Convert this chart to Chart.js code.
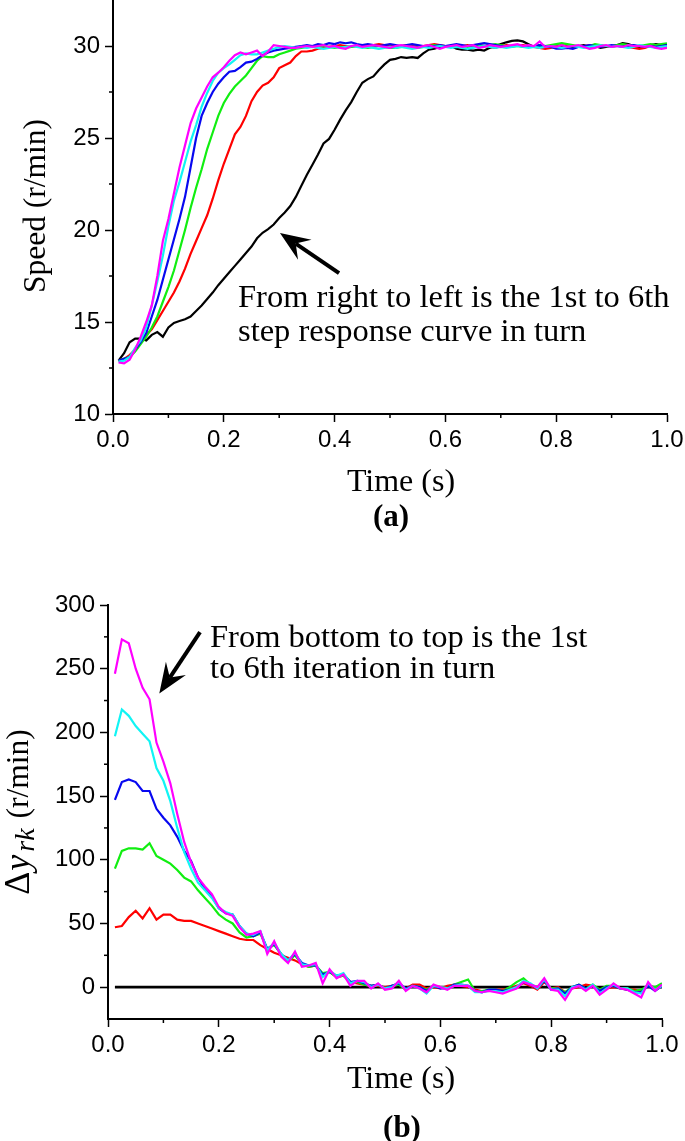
<!DOCTYPE html>
<html><head><meta charset="utf-8">
<script src="https://cdn.jsdelivr.net/npm/chart.js@4.4.0/dist/chart.umd.min.js"></script>
<style>
html,body{margin:0;padding:0;background:#fff;width:685px;height:1141px;overflow:hidden}
#ca{position:absolute;left:0;top:0}
#cb{position:absolute;left:0;top:545px}
</style></head><body>
<canvas id="ca" width="685" height="545"></canvas>
<canvas id="cb" width="685" height="596"></canvas>
<script>
// ---------- (a) step responses: time (s) and speed (r/min) ----------
const timeA = [0.01,0.02,0.03,0.04,0.05,0.06,0.07,0.08,0.09,0.10,
0.11,0.12,0.13,0.14,0.15,0.16,0.17,0.18,0.19,0.20,
0.21,0.22,0.23,0.24,0.25,0.26,0.27,0.28,0.29,0.30,
0.31,0.32,0.33,0.34,0.35,0.36,0.37,0.38,0.39,0.40,
0.41,0.42,0.43,0.44,0.45,0.46,0.47,0.48,0.49,0.50,
0.51,0.52,0.53,0.54,0.55,0.56,0.57,0.58,0.59,0.60,
0.61,0.62,0.63,0.64,0.65,0.66,0.67,0.68,0.69,0.70,
0.71,0.72,0.73,0.74,0.75,0.76,0.77,0.78,0.79,0.80,
0.81,0.82,0.83,0.84,0.85,0.86,0.87,0.88,0.89,0.90,
0.91,0.92,0.93,0.94,0.95,0.96,0.97,0.98,0.99,1.00];
const speed1 = [12.9,13.3,13.9,14.1,14.1,14.0,14.3,14.45,14.2,14.7,
14.95,15.05,15.15,15.3,15.6,15.9,16.25,16.6,17.0,17.35,
17.7,18.05,18.4,18.75,19.1,19.55,19.85,20.05,20.3,20.65,
20.95,21.3,21.8,22.4,23.0,23.55,24.1,24.7,24.95,25.45,
26.0,26.5,26.95,27.5,28.0,28.2,28.35,28.7,29.0,29.25,
29.3,29.4,29.35,29.4,29.35,29.6,29.8,29.85,29.95,30.0,
30.0,29.85,29.8,29.8,29.75,29.8,29.75,29.9,30.0,30.1,
30.2,30.28,30.3,30.25,30.1,29.95,30.0,29.9,30.0,30.05,
29.95,30.0,29.9,30.0,30.05,29.95,30.0,29.9,29.95,30.0,
30.05,30.15,30.1,30.0,29.95,30.0,30.05,30.1,30.05,30.1];
const speed2 = [12.9,13.0,13.2,13.5,13.9,14.3,14.6,15.1,15.6,16.1,
16.6,17.2,17.9,18.7,19.4,20.1,20.8,21.7,22.7,23.6,
24.4,25.2,25.6,26.2,27.0,27.5,27.85,28.0,28.3,28.8,
28.95,29.1,29.45,29.7,29.7,29.75,29.85,29.9,29.95,30.0,
30.05,30.0,29.95,30.0,30.05,30.0,30.05,30.1,30.05,30.0,
29.95,30.0,30.05,30.0,29.95,30.0,30.05,30.1,30.05,30.0,
30.0,29.95,30.0,30.05,30.0,30.05,30.0,29.95,29.9,30.0,
30.05,30.0,30.0,30.05,30.0,29.95,29.9,29.85,29.9,30.0,
30.05,30.0,30.0,29.95,30.0,30.05,30.0,29.95,30.0,29.95,
30.0,30.05,29.95,29.9,29.85,29.9,30.0,30.05,30.0,29.95];
const speed3 = [12.9,13.0,13.1,13.4,13.8,14.2,14.7,15.3,16.1,16.9,
17.8,18.9,20.0,21.2,22.3,23.3,24.4,25.3,26.2,26.9,
27.4,27.8,28.1,28.4,28.8,29.2,29.45,29.4,29.4,29.55,
29.65,29.75,29.85,29.9,29.95,30.0,29.95,30.0,29.95,29.9,
29.95,29.9,29.95,30.0,29.95,29.9,29.95,30.0,29.95,29.9,
29.9,29.95,30.0,29.95,29.9,29.95,30.0,30.05,30.0,29.95,
30.0,29.95,30.0,29.95,30.0,30.05,30.0,30.05,30.1,30.05,
30.0,29.95,30.0,29.95,30.0,30.0,30.05,30.0,30.05,30.1,
30.15,30.1,30.05,30.0,29.95,30.0,30.1,30.05,30.0,30.0,
30.05,30.1,30.05,30.0,30.0,30.05,30.1,30.05,30.1,30.15];
const speed4 = [12.9,13.0,13.1,13.5,13.9,14.4,15.3,16.2,17.3,18.4,
19.5,20.6,21.8,23.4,25.0,26.2,26.9,27.5,27.95,28.3,
28.6,28.65,28.85,29.1,29.15,29.3,29.5,29.65,29.75,29.8,
29.85,29.9,29.95,30.0,30.05,30.0,30.1,30.05,30.15,30.1,
30.2,30.15,30.2,30.1,30.05,30.1,30.05,30.0,30.05,30.1,
30.05,30.0,30.05,30.1,30.05,30.0,29.95,30.0,30.05,30.0,
30.05,30.1,30.05,30.0,30.05,30.1,30.15,30.1,30.05,30.0,
29.95,30.0,30.05,30.0,29.95,30.0,30.05,30.0,29.95,29.85,
29.85,29.9,29.85,29.95,30.0,30.05,30.0,29.95,30.0,30.05,
30.0,29.95,30.0,30.05,30.0,29.95,30.0,29.95,30.0,30.05];
const speed5 = [12.85,12.9,13.1,13.6,14.0,14.7,15.9,17.2,18.6,20.2,
21.6,22.6,23.7,24.8,25.7,26.7,27.45,28.1,28.55,28.8,
29.0,29.25,29.5,29.6,29.55,29.55,29.65,29.75,29.85,29.95,
30.0,29.95,29.9,29.95,29.9,29.95,29.9,29.85,29.9,29.95,
29.9,29.95,30.0,29.95,29.9,29.95,29.9,29.85,29.9,29.95,
29.9,29.95,29.9,29.85,29.9,29.95,29.9,29.95,30.0,29.95,
29.9,29.95,29.9,29.85,29.9,29.95,30.0,29.95,29.9,29.95,
29.9,29.95,30.0,29.95,29.9,29.95,29.9,29.95,30.0,29.95,
29.9,29.95,30.0,29.95,29.9,29.95,30.0,30.05,30.0,29.95,
30.0,29.95,29.9,29.95,30.05,30.0,29.95,29.9,29.95,30.0];
const speed6 = [12.8,12.75,12.95,13.5,14.2,15.0,15.9,17.5,19.4,20.6,
22.0,23.4,24.6,25.8,26.6,27.2,27.8,28.3,28.55,28.85,
29.2,29.5,29.65,29.55,29.65,29.75,29.45,29.7,30.05,30.0,
29.95,29.9,29.9,29.95,30.0,29.95,30.0,30.05,29.95,30.0,
29.9,29.85,30.0,30.05,29.95,30.0,30.05,30.0,29.95,29.9,
30.0,30.05,30.0,29.95,29.9,30.0,30.05,29.95,29.85,29.95,
30.0,30.05,29.95,30.0,30.05,29.9,29.95,30.05,30.0,29.95,
30.0,30.05,30.1,30.0,30.05,30.0,30.25,29.95,30.0,29.95,
30.05,29.95,30.0,30.05,29.95,29.85,29.9,30.0,30.05,29.95,
30.0,29.95,30.05,30.0,30.0,29.95,30.0,29.9,29.85,29.9];

// ---------- (b) increments Δy_rk (r/min) ----------
const timeB = [0.0125,0.025,0.0375,0.05,0.0625,0.075,0.0875,0.1,0.1125,0.125,
0.1375,0.15,0.1625,0.175,0.1875,0.2,0.2125,0.225,0.2375,0.25,
0.2625,0.275,0.2875,0.3,0.3125,0.325,0.3375,0.35,0.3625,0.375,
0.3875,0.4,0.4125,0.425,0.4375,0.45,0.4625,0.475,0.4875,0.5,
0.5125,0.525,0.5375,0.55,0.5625,0.575,0.5875,0.6,0.6125,0.625,
0.6375,0.65,0.6625,0.675,0.6875,0.7,0.7125,0.725,0.7375,0.75,
0.7625,0.775,0.7875,0.8,0.8125,0.825,0.8375,0.85,0.8625,0.875,
0.8875,0.9,0.9125,0.925,0.9375,0.95,0.9625,0.975,0.9875,1.0];
const dy1Time = [0.0125, 1.0];
const dy1 = [0, 0];
const dy2 = [47,48,55,60,54,62,53,57,57,53,
52,52,50,48,46,44,42,40,38,37,
37,33,30,27,25,23,21,18,16,17,
10,12,8,9,4,3,2,1,1,0,
1,2,-1,2,2,-1,0,-1,1,2,
1,0,-2,-3,-3,-2,-2,-1,1,3,
1,-2,4,-1,0,-4,-1,0,2,1,
-2,-1,0,-1,-2,-2,-3,2,-1,1];
const dy3 = [93,107,109,109,108,113,103,100,97,92,
86,83,76,70,64,57,53,50,43,39,
40,42,30,33,26,20,25,18,16,17,
11,12,8,9,4,4,2,1,2,-1,
1,2,-2,1,0,-2,1,0,-1,2,
4,6,-3,-3,-2,-2,-3,0,4,7,
2,0,5,-1,-1,-4,0,2,-1,2,
-2,1,1,-1,-1,-3,-2,1,0,3];
const dy4 = [147,161,163,161,154,154,140,133,127,118,
107,99,86,77,71,62,58,57,48,42,
40,43,30,34,26,21,26,19,17,17,
10,12,9,10,4,5,3,1,2,-1,
1,3,-1,1,0,-3,1,-1,-1,2,
2,1,-3,-4,-2,-2,-3,-2,0,4,
2,-1,5,-2,-1,-5,0,2,-1,1,
-3,0,1,-1,-2,-4,-4,1,-3,1];
const dy5 = [197,218,213,205,199,193,172,162,146,125,
106,93,82,76,70,62,59,57,48,42,
41,44,29,35,26,21,27,18,17,18,
8,13,9,11,3,5,4,0,2,-1,
0,4,-2,1,-1,-5,1,0,-1,1,
2,1,-4,-4,-3,-3,-4,-2,0,5,
3,-1,6,-2,-2,-7,0,1,-2,2,
-5,-1,2,-1,-1,-4,-5,3,-2,1];
const dy6 = [246,273,270,250,235,226,192,177,160,136,
114,98,86,79,73,63,58,56,47,41,
42,44,26,36,24,19,28,16,17,19,
3,14,7,10,1,5,5,-1,3,-2,
-1,5,-3,1,-1,-4,2,0,-2,1,
1,1,-3,-4,-3,-4,-5,-3,-1,4,
2,0,7,-2,-3,-10,-1,1,-3,1,
-6,-2,3,-1,-2,-5,-8,4,-3,2];

// ---------- ticks ----------
const xTickVals = [0, 0.2, 0.4, 0.6, 0.8, 1.0];
const xMinorVals = [0.1, 0.3, 0.5, 0.7, 0.9];
const yTickValsA = [10, 15, 20, 25, 30];
const yMinorValsA = [12.5, 17.5, 22.5, 27.5];
const yTickValsB = [0, 50, 100, 150, 200, 250, 300];
const yMinorValsB = [25, 75, 125, 175, 225, 275];

const seriesColors = ['#000000', '#ff0000', '#11ee11', '#0808f0', '#11f4f4', '#ff00ff'];

const SERIF = "'Liberation Serif','Times New Roman',serif";
const SANS = "'Liberation Sans',Arial,sans-serif";

function pts(t, v) { return v.map((y, i) => ({x: t[i], y: y})); }
function ds(t, v, c, w) {
  return {data: pts(t, v), borderColor: c, borderWidth: w || 2.2, pointRadius: 0, fill: false, tension: 0};
}

function drawArrow(ctx, x1, y1, x2, y2) {
  const a = Math.atan2(y2 - y1, x2 - x1);
  const c = Math.cos(a), s = Math.sin(a);
  const hl = 30, hw = 12, notch = 19;
  ctx.lineWidth = 4; ctx.lineCap = 'butt';
  ctx.beginPath(); ctx.moveTo(x1, y1); ctx.lineTo(x2 - notch * c, y2 - notch * s); ctx.stroke();
  const bx = x2 - hl * c, by = y2 - hl * s;
  ctx.beginPath();
  ctx.moveTo(x2, y2);
  ctx.lineTo(bx - s * hw, by + c * hw);
  ctx.lineTo(x2 - notch * c, y2 - notch * s);
  ctx.lineTo(bx + s * hw, by - c * hw);
  ctx.closePath(); ctx.fill();
}

const decor = {
  id: 'decor',
  afterDraw(chart, args, o) {
    const ctx = chart.ctx, xs = chart.scales.x, ys = chart.scales.y;
    ctx.save();
    ctx.strokeStyle = '#000'; ctx.fillStyle = '#000'; ctx.lineWidth = 1.5;
    o.minorX.forEach(v => { const p = xs.getPixelForValue(v); ctx.beginPath(); ctx.moveTo(p, xs.top); ctx.lineTo(p, xs.top + 4); ctx.stroke(); });
    o.minorY.forEach(v => { const p = ys.getPixelForValue(v); ctx.beginPath(); ctx.moveTo(ys.right, p); ctx.lineTo(ys.right - 4, p); ctx.stroke(); });
    o.notes.forEach(n => {
      ctx.font = n.font; ctx.textAlign = 'left'; ctx.textBaseline = 'alphabetic';
      ctx.fillText(n.text, xs.getPixelForValue(n.x), ys.getPixelForValue(n.y));
    });
    o.arrows.forEach(a => {
      drawArrow(ctx, xs.getPixelForValue(a.x1), ys.getPixelForValue(a.y1), xs.getPixelForValue(a.x2), ys.getPixelForValue(a.y2));
    });
    o.labels.forEach(l => {
      ctx.save();
      ctx.translate(l.px, l.py);
      if (l.rot) ctx.rotate(-Math.PI / 2);
      ctx.textBaseline = 'middle';
      if (l.parts) {
        let w = 0;
        l.parts.forEach(p => { ctx.font = p.font; w += ctx.measureText(p.t).width + (p.gap || 0); });
        let x = -w / 2;
        ctx.textAlign = 'left';
        l.parts.forEach(p => { ctx.font = p.font; ctx.fillText(p.t, x, p.dy || 0); x += ctx.measureText(p.t).width + (p.gap || 0); });
      } else {
        ctx.font = l.font; ctx.textAlign = 'center';
        ctx.fillText(l.text, 0, 0);
      }
      ctx.restore();
    });
    ctx.restore();
  }
};

function axisCfg(min, max, tickVals, fmt, fitSize, horizontal, pad) {
  return {
    type: 'linear', min: min, max: max,
    afterBuildTicks: s => { s.ticks = tickVals.map(v => ({value: v})); },
    afterFit: s => {
      if (horizontal) s.height = fitSize; else s.width = fitSize;
      s.paddingTop = 0; s.paddingBottom = 0; s.paddingLeft = 0; s.paddingRight = 0;
    },
    ticks: {callback: fmt, font: {family: SANS, size: 24}, color: '#000', padding: pad, maxRotation: 0, autoSkip: false},
    grid: {drawOnChartArea: false, drawTicks: true, tickLength: 8, tickColor: '#000', tickWidth: 1.5},
    border: {display: true, color: '#000', width: 2}
  };
}

const fmtX = v => Number(v).toFixed(1);
const fmtY = v => String(v);

new Chart(document.getElementById('ca'), {
  type: 'line',
  data: {datasets: [
    ds(timeA, speed6, seriesColors[5]), ds(timeA, speed5, seriesColors[4]), ds(timeA, speed4, seriesColors[3]),
    ds(timeA, speed3, seriesColors[2]), ds(timeA, speed2, seriesColors[1]), ds(timeA, speed1, seriesColors[0])
  ]},
  options: {
    responsive: false, animation: false, events: [],
    layout: {padding: {left: 0, right: 18, top: 0, bottom: 43.4}},
    plugins: {
      legend: {display: false}, tooltip: {enabled: false},
      decor: {
        minorX: xMinorVals, minorY: yMinorValsA,
        notes: [
          {text: 'From right to left is the 1st to 6th', x: 0.2256, y: 15.82, font: '32.5px ' + SERIF},
          {text: 'step response curve in turn', x: 0.2256, y: 13.95, font: '32.5px ' + SERIF}
        ],
        arrows: [{x1: 0.408, y1: 17.66, x2: 0.3014, y2: 19.84}],
        labels: [
          {text: 'Time (s)', px: 401, py: 483, font: '32px ' + SERIF},
          {text: '(a)', px: 391, py: 518, font: 'bold 31px ' + SERIF},
          {text: 'Speed (r/min)', px: 37, py: 206, rot: true, font: '31.5px ' + SERIF}
        ]
      }
    },
    scales: {
      x: axisCfg(0, 1, xTickVals, fmtX, 87.6, true, 4),
      y: axisCfg(10, 32.5, yTickValsA, fmtY, 113, false, 5)
    }
  },
  plugins: [decor]
});

new Chart(document.getElementById('cb'), {
  type: 'line',
  data: {datasets: [
    ds(timeB, dy6, seriesColors[5]), ds(timeB, dy5, seriesColors[4]), ds(timeB, dy4, seriesColors[3]),
    ds(timeB, dy3, seriesColors[2]), ds(timeB, dy2, seriesColors[1]), ds(dy1Time, dy1, seriesColors[0], 2.6)
  ]},
  options: {
    responsive: false, animation: false, events: [],
    layout: {padding: {left: 0, right: 23, top: 60, bottom: 42.4}},
    plugins: {
      legend: {display: false}, tooltip: {enabled: false},
      decor: {
        minorX: xMinorVals, minorY: yMinorValsB,
        notes: [
          {text: 'From bottom to top is the 1st', x: 0.1841, y: 266.9, font: '32.5px ' + SERIF},
          {text: 'to 6th iteration in turn', x: 0.1841, y: 243.0, font: '32.5px ' + SERIF}
        ],
        arrows: [{x1: 0.1661, y1: 278.7, x2: 0.0926, y2: 230.6}],
        labels: [
          {text: 'Time (s)', px: 401, py: 535, font: '32px ' + SERIF},
          {text: '(b)', px: 402, py: 584, font: 'bold 31px ' + SERIF},
          {px: 20, py: 267, rot: true, parts: [
            {t: 'Δ', font: '36px ' + SERIF, gap: 1},
            {t: 'y', font: 'italic 36px ' + SERIF, gap: 3},
            {t: 'rk', font: 'italic 28px ' + SERIF, dy: 7, gap: 2},
            {t: ' (r/min)', font: '31.5px ' + SERIF}
          ]}
        ]
      }
    },
    scales: {
      x: axisCfg(0, 1, xTickVals, fmtX, 79.6, true, 4),
      y: axisCfg(-25, 300, yTickValsB, fmtY, 108, false, 5)
    }
  },
  plugins: [decor]
});
</script></body></html>
